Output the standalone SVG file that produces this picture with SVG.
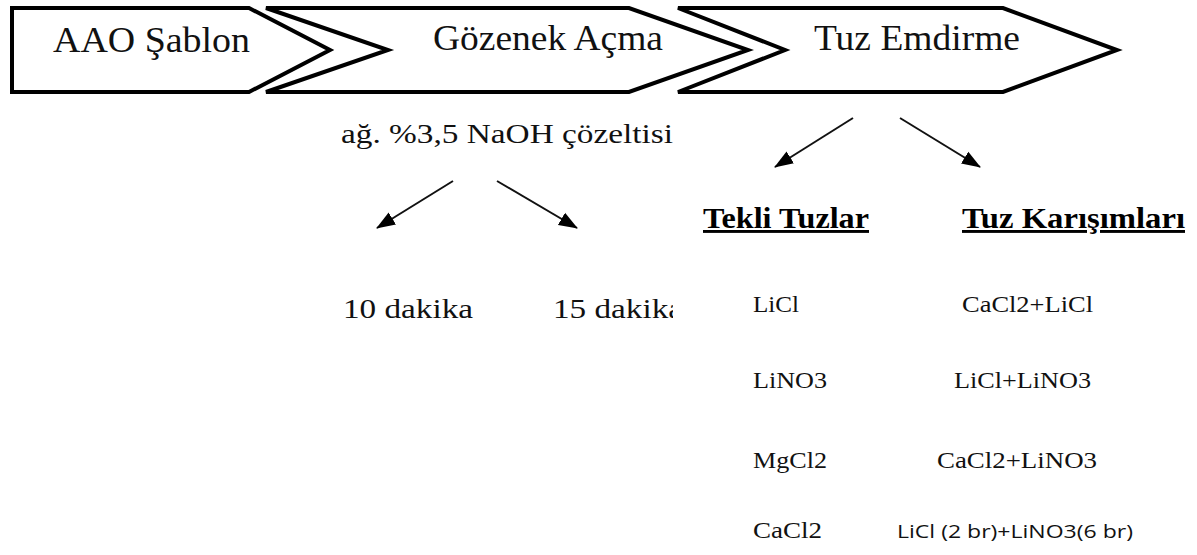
<svg xmlns="http://www.w3.org/2000/svg" width="1197" height="555" viewBox="0 0 1197 555">
<style>
.shape{fill:#fff;stroke:#000;stroke-width:4;stroke-linejoin:miter}
.hd{font-family:"Liberation Serif","Times New Roman",serif;font-size:36px;fill:#111}
.tx{font-family:"Liberation Serif","Times New Roman",serif;font-size:27px;fill:#111}
.bd{font-family:"Liberation Serif","Times New Roman",serif;font-size:29px;font-weight:bold;fill:#000;text-decoration:underline}
.it{font-family:"Liberation Serif","Times New Roman",serif;font-size:23px;fill:#111}
.sn{font-family:"Open Sans","Liberation Sans",sans-serif;font-size:19px;fill:#111}
.conn{stroke:#111;stroke-width:2;fill:none}
</style>
<defs>
<marker id="ah" markerUnits="userSpaceOnUse" markerWidth="20" markerHeight="16" viewBox="0 0 20 16" refX="18" refY="8" orient="auto">
<path d="M0,1 L19,8 L0,15 Z" fill="#000"/>
</marker>
<clipPath id="clip15"><rect x="540" y="280" width="133" height="60"/></clipPath>
</defs>
<rect width="1197" height="555" fill="#fff"/>
<g id="node-aao">
<path class="shape" d="M12,8 H249 L330,50 L249,92 H12 Z"/>
<text class="hd" x="53" y="52" textLength="197" lengthAdjust="spacingAndGlyphs">AAO Şablon</text>
</g>
<g id="node-gozenek">
<path class="shape" d="M266,8 H629 L748,50 L629,92 H266 L388,50 Z"/>
<text class="hd" x="433" y="50" textLength="230" lengthAdjust="spacingAndGlyphs">Gözenek Açma</text>
</g>
<g id="node-tuz">
<path class="shape" d="M678,8 H1003 L1117,50 L1003,92 H678 L785,50 Z"/>
<text class="hd" x="814" y="50" textLength="206" lengthAdjust="spacingAndGlyphs">Tuz Emdirme</text>
</g>
<g id="node-naoh">
<text class="tx" x="341" y="143" textLength="332" lengthAdjust="spacingAndGlyphs">ağ. %3,5 NaOH çözeltisi</text>
</g>
<g id="node-10">
<text class="tx" x="343" y="318" textLength="130" lengthAdjust="spacingAndGlyphs">10 dakika</text>
</g>
<g id="node-15" clip-path="url(#clip15)">
<text class="tx" x="553" y="318" textLength="130" lengthAdjust="spacingAndGlyphs">15 dakika</text>
</g>
<g id="node-tekli">
<text class="bd" x="703" y="228" textLength="166" lengthAdjust="spacingAndGlyphs">Tekli Tuzlar</text>
<text class="it" x="753" y="312" textLength="46" lengthAdjust="spacingAndGlyphs">LiCl</text>
<text class="it" x="753" y="388" textLength="74" lengthAdjust="spacingAndGlyphs">LiNO3</text>
<text class="it" x="753" y="468" textLength="74" lengthAdjust="spacingAndGlyphs">MgCl2</text>
<text class="it" x="753" y="538" textLength="69" lengthAdjust="spacingAndGlyphs">CaCl2</text>
</g>
<g id="node-karisim">
<text class="bd" x="962" y="228" textLength="223" lengthAdjust="spacingAndGlyphs">Tuz Karışımları</text>
<text class="it" x="962" y="312" textLength="131" lengthAdjust="spacingAndGlyphs">CaCl2+LiCl</text>
<text class="it" x="954" y="388" textLength="137" lengthAdjust="spacingAndGlyphs">LiCl+LiNO3</text>
<text class="it" x="937" y="468" textLength="160" lengthAdjust="spacingAndGlyphs">CaCl2+LiNO3</text>
<text class="sn" x="897" y="538" textLength="236" lengthAdjust="spacingAndGlyphs">LiCl (2 br)+LiNO3(6 br)</text>
</g>
<g id="connectors">
<line class="conn" x1="453" y1="181" x2="377" y2="228" marker-end="url(#ah)"/>
<line class="conn" x1="497" y1="181" x2="577" y2="228" marker-end="url(#ah)"/>
<line class="conn" x1="853" y1="118" x2="775" y2="167" marker-end="url(#ah)"/>
<line class="conn" x1="900" y1="118" x2="980" y2="167" marker-end="url(#ah)"/>
</g>
</svg>
